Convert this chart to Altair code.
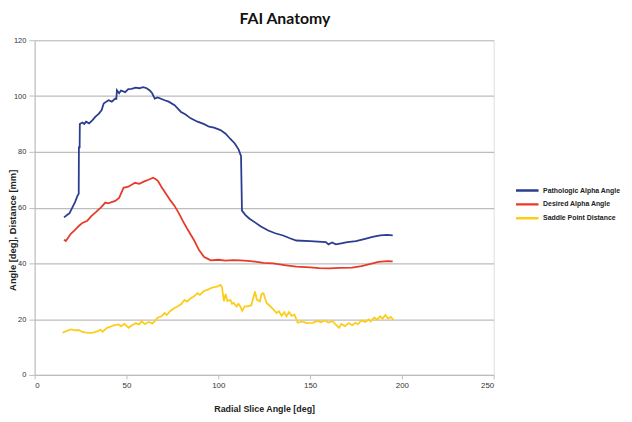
import altair as alt
import pandas as pd

series_names = ["Pathologic Alpha Angle", "Desired Alpha Angle", "Saddle Point Distance"]
series_colors = ["#2B3D8E", "#E63B2A", "#FCCD1B"]

patho_x = [16, 18, 19, 20.5, 22, 23.3, 24, 24.1, 24.5, 24.6, 26, 27, 28, 29.6, 31.4, 33, 35, 36.5, 37.6, 39,
           40.3, 42, 43.9, 44.5, 44.8, 46, 47, 49.3, 51, 52.8, 55, 57, 59.1, 61, 62.7, 64, 65.4, 67, 70.8, 73,
           76.2, 78, 79.7, 82, 85, 88.7, 92, 95, 97.7, 101.2, 104, 106.6, 109, 111.1, 112.4, 112.9, 114.7, 117,
           120, 123, 127.2, 131, 135.3, 139, 142.5, 150, 158.6, 160, 162, 164, 167, 170.3, 175, 180, 184, 188.2,
           192, 195]
patho_y = [56.5, 57.5, 58, 60, 62, 64.2, 65, 81.6, 81.6, 90, 90.5, 90, 90.8, 90.2, 91.3, 92.5, 93.7, 95, 97.3, 98,
           98.5, 98, 99.1, 99, 102.1, 101, 102, 101.4, 102.5, 102.6, 103, 102.8, 103.2, 102.8, 102, 101, 99.1, 99.5,
           98.5, 98, 96.7, 95.5, 94.3, 93.5, 92, 90.8, 90, 89, 88.7, 87.8, 86.5, 84.6, 83, 80.8, 78.4, 58.9, 57.4,
           56, 54.7, 53.3, 51.8, 50.8, 50, 49, 48.2, 48, 47.6, 46.8, 47.5, 46.8, 47.2, 47.6, 48, 48.8, 49.5, 50,
           50.2, 50]

desired_x = [16, 17, 19.7, 22, 24.2, 26, 28.7, 31, 33.2, 36, 38.5, 40, 43.9, 46, 48.4, 51, 54.7, 57, 60, 62,
             64.5, 66, 67.2, 69, 71.7, 74, 76.2, 78.5, 80.6, 83, 86.9, 88.7, 89.6, 92.3, 94.1, 95.9, 100, 104,
             108, 112, 116, 120, 124.6, 130, 136, 142.5, 150, 155, 160.4, 166, 172.9, 178, 183, 187.3, 192, 195]
desired_y = [48.5, 48, 50.6, 52, 53.5, 54.5, 55.3, 57, 58.3, 60, 61.8, 61.5, 62.4, 63.5, 67.1, 67.5, 68.9, 68.5,
             69.5, 70, 70.7, 70.2, 69.5, 67.5, 64.8, 62.5, 60.6, 58, 55.3, 52.5, 48.2, 45.8, 44.7, 42.3, 41.7,
             41.1, 41.3, 41, 41.2, 41.1, 40.9, 40.6, 40.2, 40, 39.4, 38.8, 38.6, 38.3, 38.2, 38.4, 38.5, 39, 39.8,
             40.5, 40.8, 40.7]

saddle_x = [15.2, 17.5, 19.7, 22, 24, 26, 28, 31.4, 34, 36, 37, 39.4, 41, 43, 45.7, 47, 49, 51.1, 53, 55, 57,
            58.2, 60, 62, 64, 65.4, 67, 69, 70.8, 72, 74, 76.2, 78, 80, 81.6, 83, 85, 86.5, 88.7, 90, 92, 94,
            95.9, 97.5, 99, 101.2, 102, 103.1, 104, 105, 106.6, 107.5, 108.4, 110, 111, 112, 113, 114.5, 116,
            118, 119, 120, 121, 122.7, 123.5, 124.6, 126.3, 128, 130, 131.7, 133, 134.5, 136, 137.1, 138.5, 140,
            141.5, 143.3, 146, 148, 151.4, 154, 156, 158, 160, 162.2, 164, 165.8, 167, 169, 171, 173, 174.7,
            176, 178, 180, 181.9, 183, 185, 186.5, 188.2, 189.5, 191, 192.5, 194, 195.5]
saddle_y = [15.1, 15.8, 16.3, 16, 16.1, 15.4, 15.2, 15.1, 15.6, 16.2, 15.5, 16.9, 17.2, 17.8, 18.1, 17.5, 18.3,
            16.9, 17.8, 18.5, 18.1, 19.3, 18.2, 19, 18.4, 19.3, 20.5, 21, 22.2, 21.5, 23, 24, 24.6, 25.5, 26.9,
            26.3, 27.5, 28, 29.3, 28.7, 30, 30.5, 31.1, 31.5, 31.6, 32.3, 31.5, 26.4, 29, 26.5, 26.9, 25.5, 25.8,
            24.5, 25.5, 24.6, 23, 24.6, 24.6, 25, 27.5, 29.9, 27, 26.4, 29, 29.3, 25.8, 24.8, 23.5, 22.2, 22.8,
            21.2, 22.5, 21, 22.5, 21.2, 21.6, 18.7, 19.2, 18.6, 18.7, 19.4, 18.9, 19.5, 18.8, 19.3, 18, 16.9,
            18.3, 17.5, 18.6, 17.8, 18.7, 18.2, 19.5, 19, 19.9, 19.2, 20.6, 19.8, 21, 20.2, 21.5, 20.2, 20.8,
            19.6]

x_ticks = [0, 50, 100, 150, 200, 250]
y_ticks = [0, 20, 40, 60, 80, 100, 120]

rows = []
for name, xs, ys in zip(series_names, [patho_x, desired_x, saddle_x], [patho_y, desired_y, saddle_y]):
    for i, (a, b) in enumerate(zip(xs, ys)):
        rows.append({"series": name, "x": a, "y": b, "order": i})
df = pd.DataFrame(rows)

grey = "#BDBDBD"
font = "Liberation Sans"

chart = alt.Chart(df).mark_line(strokeWidth=1.8).encode(
    x=alt.X("x:Q", scale=alt.Scale(domain=[0, 250], nice=False),
            axis=alt.Axis(values=x_ticks, grid=False, title="Radial Slice Angle [deg]",
                          domainColor=grey, tickColor=grey, tickSize=4, labelPadding=3,
                          labelFont=font, labelFontSize=8, labelColor="#333333",
                          titleFont=font, titleFontSize=9, titleFontWeight="bold", titleColor="#222222",
                          titlePadding=15)),
    y=alt.Y("y:Q", scale=alt.Scale(domain=[0, 120], nice=False),
            axis=alt.Axis(values=y_ticks, grid=True, gridColor=grey, gridWidth=1.2,
                          title="Angle [deg], Distance [mm]",
                          domainColor=grey, tickColor=grey, tickSize=6, labelPadding=3,
                          labelFont=font, labelFontSize=7.5, labelColor="#333333",
                          titleFont=font, titleFontSize=9.5, titleFontWeight="bold", titleColor="#222222",
                          titleX=-17, titleY=192)),
    color=alt.Color("series:N", scale=alt.Scale(domain=series_names, range=series_colors),
                    legend=alt.Legend(title=None, orient="none", legendX=486, legendY=146.5,
                                      symbolType="stroke", symbolSize=520, symbolStrokeWidth=2.5,
                                      clipHeight=11.5, rowPadding=2, padding=0, labelOffset=3,
                                      labelFont=font, labelFontSize=7, labelFontWeight="bold",
                                      labelColor="#222222")),
    order="order:Q",
).properties(
    width=465, height=339,
    autosize=alt.AutoSizeParams(type="none"),
    padding={"left": 27, "top": 30, "right": 132, "bottom": 45},
    title=alt.TitleParams("FAI Anatomy", font="Lato", fontSize=16, fontWeight="bold", color="#111111",
                          anchor="middle", dx=21, offset=9),
).configure_view(stroke=grey, strokeWidth=1.2).configure(background="white")

chart.save("out.html", embed_options={"renderer": "svg", "actions": False})
